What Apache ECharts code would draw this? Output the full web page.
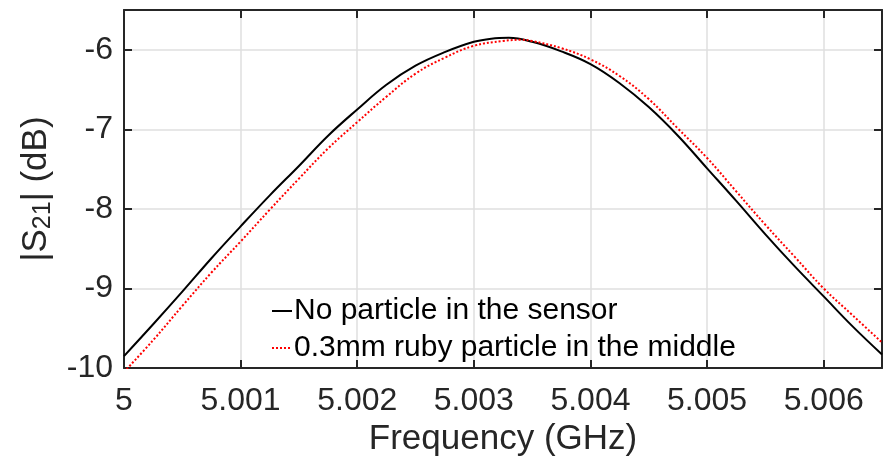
<!DOCTYPE html>
<html>
<head>
<meta charset="utf-8">
<script src="https://cdn.jsdelivr.net/npm/echarts@6/dist/echarts.min.js"></script>
<style>
html,body{margin:0;padding:0;background:#fff;}
#chart{width:883px;height:468px;}
</style>
</head>
<body>
<div id="chart"></div>
<script>
// Frequency (GHz)
var freqNoParticle = [5.0, 5.00025, 5.0005, 5.00075, 5.001, 5.00125, 5.0015, 5.00175, 5.002, 5.00225, 5.0025, 5.00275, 5.003, 5.00315, 5.0033, 5.0035, 5.00375, 5.004, 5.00425, 5.0045, 5.00475, 5.005, 5.00525, 5.0055, 5.00575, 5.006, 5.00625, 5.0065];
var s21NoParticle = [-9.85, -9.45, -9.04, -8.62, -8.22, -7.83, -7.46, -7.08, -6.75, -6.44, -6.20, -6.03, -5.90, -5.86, -5.85, -5.90, -6.02, -6.18, -6.42, -6.72, -7.08, -7.49, -7.90, -8.32, -8.72, -9.10, -9.48, -9.83];
var freqRuby = [5.0, 5.00025, 5.0005, 5.00075, 5.001, 5.00125, 5.0015, 5.00175, 5.002, 5.00225, 5.0025, 5.00275, 5.003, 5.00325, 5.0034, 5.0035, 5.00375, 5.004, 5.00425, 5.0045, 5.00475, 5.005, 5.00525, 5.0055, 5.00575, 5.006, 5.00625, 5.0065];
var s21Ruby = [-10.05, -9.65, -9.22, -8.80, -8.41, -8.01, -7.62, -7.24, -6.91, -6.59, -6.30, -6.10, -5.95, -5.89, -5.875, -5.89, -5.98, -6.12, -6.33, -6.62, -6.99, -7.36, -7.78, -8.20, -8.60, -9.00, -9.34, -9.68];
var seriesNames = ['No particle in the sensor', '0.3mm ruby particle in the middle'];
var xTickLabels = ['5', '5.001', '5.002', '5.003', '5.004', '5.005', '5.006'];
var yTickLabels = ['-10', '-9', '-8', '-7', '-6'];

function pairs(xs, ys) { return xs.map(function (x, i) { return [x, ys[i]]; }); }

var FONT = "'Liberation Sans', Arial, Helvetica, sans-serif";
var AX = '#262626';
var GRIDC = '#dfdfdf';

var chart = echarts.init(document.getElementById('chart'), null, {renderer: 'canvas'});

var xFmt = function (v) {
  var k = Math.round((v - 5) / 0.001);
  if (Math.abs(v - (5 + k * 0.001)) > 1e-7) return '';
  return xTickLabels[k] !== undefined ? xTickLabels[k] : '';
};
var yFmt = function (v) {
  var k = Math.round(v + 10);
  if (Math.abs(v - (k - 10)) > 1e-7) return '';
  return yTickLabels[k] !== undefined ? yTickLabels[k] : '';
};

chart.setOption({
  animation: false,
  backgroundColor: '#fff',
  grid: {left: 124, right: 1, top: 10, bottom: 100, containLabel: false},
  legend: {
    orient: 'vertical',
    left: 266, top: 291,
    itemWidth: 20, itemHeight: 14, itemGap: 7,
    itemStyle: {opacity: 0},
    textStyle: {fontFamily: FONT, fontSize: 30, color: '#000', padding: [0,0,0,-3]},
    data: seriesNames
  },
  xAxis: [{
    type: 'value', min: 5, max: 5.0065, interval: 0.001, position: 'bottom',
    name: 'Frequency (GHz)', nameLocation: 'middle', nameGap: 52,
    nameTextStyle: {fontFamily: FONT, fontSize: 35, color: AX},
    axisLine: {show: true, lineStyle: {color: AX, width: 2}},
    axisTick: {show: true, inside: true, length: 8, lineStyle: {color: AX, width: 2}},
    axisLabel: {fontFamily: FONT, fontSize: 32, color: AX, margin: 17, formatter: xFmt, showMaxLabel: false},
    splitLine: {show: true, lineStyle: {color: GRIDC, width: 1.5}}
  }, {
    type: 'value', min: 5, max: 5.0065, interval: 0.001, position: 'top',
    axisLine: {show: true, lineStyle: {color: AX, width: 2}},
    axisTick: {show: true, inside: true, length: 8, lineStyle: {color: AX, width: 2}},
    axisLabel: {show: false},
    splitLine: {show: false}
  }],
  yAxis: [{
    type: 'value', min: -10, max: -5.5, interval: 1, position: 'left',
    name: '|S{sub|21}| (dB)', nameLocation: 'middle', nameGap: 64, nameRotate: 90,
    nameTextStyle: {fontFamily: FONT, fontSize: 35, color: AX, lineHeight: 40,
      rich: {sub: {fontFamily: FONT, fontSize: 25, color: AX, verticalAlign: 'bottom', lineHeight: 40, padding: [14,0,0,0]}}},
    axisLine: {show: true, lineStyle: {color: AX, width: 2}},
    axisTick: {show: true, inside: true, length: 8, lineStyle: {color: AX, width: 2}},
    axisLabel: {fontFamily: FONT, fontSize: 32, color: AX, margin: 11, formatter: yFmt, showMaxLabel: false},
    splitLine: {show: true, lineStyle: {color: GRIDC, width: 1.5}}
  }, {
    type: 'value', min: -10, max: -5.5, interval: 1, position: 'right',
    axisLine: {show: true, lineStyle: {color: AX, width: 2}},
    axisTick: {show: true, inside: true, length: 8, lineStyle: {color: AX, width: 2}},
    axisLabel: {show: false},
    splitLine: {show: false}
  }],
  series: [{
    name: seriesNames[0], type: 'line', xAxisIndex: 0, yAxisIndex: 0,
    data: pairs(freqNoParticle, s21NoParticle),
    smooth: 0.4, showSymbol: false, symbol: 'none', clip: true,
    lineStyle: {color: '#000', width: 2}, itemStyle: {color: '#000'}, z: 3
  }, {
    name: seriesNames[1], type: 'line', xAxisIndex: 0, yAxisIndex: 0,
    data: pairs(freqRuby, s21Ruby),
    smooth: 0.4, showSymbol: false, symbol: 'none', clip: true,
    lineStyle: {color: '#ff0000', width: 2, type: [2, 2]}, itemStyle: {color: '#ff0000'}, z: 4
  }]
});
</script>
</body>
</html>
